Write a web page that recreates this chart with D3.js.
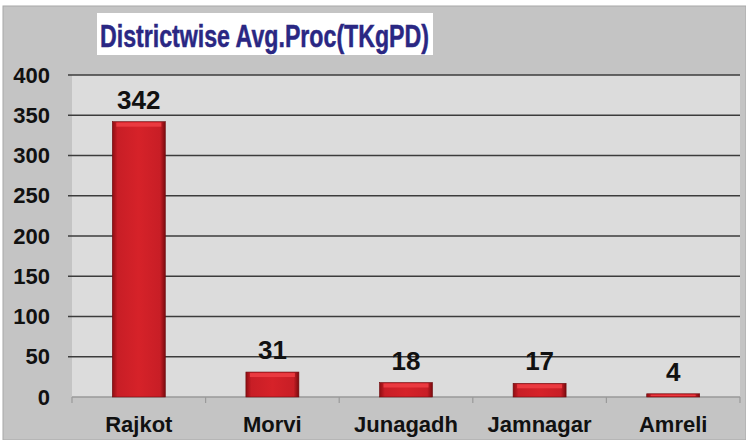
<!DOCTYPE html>
<html>
<head>
<meta charset="utf-8">
<script src="https://cdn.jsdelivr.net/npm/d3@7"></script>
<style>
  body { margin: 0; background: #fff; }
  text { font-family: "Liberation Sans", Arial, sans-serif; font-weight: bold; }
</style>
</head>
<body>
<script>
// données
const districts = ["Rajkot", "Morvi", "Junagadh", "Jamnagar", "Amreli"];
const avgProc = [342, 31, 18, 17, 4];
const yTicks = [0, 50, 100, 150, 200, 250, 300, 350, 400];

const W = 746, H = 440;
const plot = { left: 72, right: 740, top: 75, bottom: 397 };

const svg = d3.select("body").append("svg")
    .attr("width", W)
    .attr("height", H);

// dégradés pour les barres
const defs = svg.append("defs");
const grad = defs.append("linearGradient").attr("id", "barGrad")
    .attr("x1", "0%").attr("x2", "100%").attr("y1", "0%").attr("y2", "0%");
grad.append("stop").attr("offset", "0%").attr("stop-color", "#8e0d12");
grad.append("stop").attr("offset", "10%").attr("stop-color", "#c81e26");
grad.append("stop").attr("offset", "50%").attr("stop-color", "#d62229");
grad.append("stop").attr("offset", "90%").attr("stop-color", "#c81e26");
grad.append("stop").attr("offset", "100%").attr("stop-color", "#7a0a0e");

// fond gris
svg.append("rect").attr("x", 3).attr("y", 6).attr("width", W - 3).attr("height", H - 6)
    .attr("fill", "#c4c4c4").attr("stroke", "#a8a8a8");

// zone du graphique
svg.append("rect")
    .attr("x", plot.left).attr("y", plot.top)
    .attr("width", plot.right - plot.left).attr("height", plot.bottom - plot.top)
    .attr("fill", "#dcdcdc");

// titre
svg.append("rect").attr("x", 97).attr("y", 13).attr("width", 336).attr("height", 42).attr("fill", "#fff");
svg.append("text")
    .attr("x", 100).attr("y", 47)
    .attr("font-size", 32)
    .attr("fill", "#2a2783")
    .attr("stroke", "#2a2783").attr("stroke-width", 0.5)
    .attr("textLength", 329)
    .attr("lengthAdjust", "spacingAndGlyphs")
    .text("Districtwise Avg.Proc(TKgPD)");

// échelles
const x = d3.scaleBand().domain(districts).range([plot.left, plot.right]).paddingInner(0).paddingOuter(0);
const y = d3.scaleLinear().domain([0, 400]).range([plot.bottom, plot.top]);

// grille
svg.append("g")
    .selectAll("line")
    .data(yTicks.filter(d => d > 0))
    .enter()
    .append("line")
    .attr("x1", plot.left - 4).attr("x2", plot.right)
    .attr("y1", d => y(d)).attr("y2", d => y(d))
    .attr("stroke", "#3c3c3c").attr("stroke-width", 1.5);

// axe y
const yAxis = svg.append("g")
    .attr("transform", "translate(" + plot.left + ",0)")
    .call(d3.axisLeft(y).tickValues(yTicks).tickSize(0).tickPadding(22));
yAxis.select(".domain").remove();
yAxis.selectAll("text")
    .attr("font-size", 22)
    .attr("font-family", "Liberation Sans, Arial, sans-serif")
    .attr("fill", "#111");

// axe x
svg.append("line")
    .attr("x1", plot.left).attr("x2", plot.right)
    .attr("y1", plot.bottom).attr("y2", plot.bottom)
    .attr("stroke", "#9a9a9a").attr("stroke-width", 1.5);
svg.append("g")
    .selectAll("line")
    .data(districts.map(d => x(d)).concat([plot.right]))
    .enter()
    .append("line")
    .attr("x1", d => d).attr("x2", d => d)
    .attr("y1", plot.bottom).attr("y2", plot.bottom + 6)
    .attr("stroke", "#9a9a9a").attr("stroke-width", 1.2);

svg.append("g")
    .selectAll("text")
    .data(districts)
    .enter()
    .append("text")
    .attr("x", d => x(d) + x.bandwidth() / 2)
    .attr("y", 432)
    .attr("text-anchor", "middle")
    .attr("font-size", 22)
    .attr("fill", "#111")
    .text(d => d);

// barres
const barW = 53;
const bars = svg.append("g")
    .selectAll("g")
    .data(districts.map((d, i) => ({ name: d, value: avgProc[i] })))
    .enter()
    .append("g");

bars.append("rect")
    .attr("x", d => x(d.name) + x.bandwidth() / 2 - barW / 2)
    .attr("y", d => y(d.value))
    .attr("width", barW)
    .attr("height", d => y(0) - y(d.value))
    .attr("fill", "url(#barGrad)")
    .attr("stroke", "#6e0a0e")
    .attr("stroke-width", 0.6);

// reflet en haut de la barre
bars.append("rect")
    .attr("x", d => x(d.name) + x.bandwidth() / 2 - barW / 2 + 4)
    .attr("y", d => y(d.value) + 1)
    .attr("width", barW - 8)
    .attr("height", d => Math.min(4, Math.max(0, y(0) - y(d.value) - 2)))
    .attr("fill", "#ea3a40");

// étiquettes des valeurs
bars.append("text")
    .attr("x", d => x(d.name) + x.bandwidth() / 2)
    .attr("y", d => y(d.value) - 13)
    .attr("text-anchor", "middle")
    .attr("font-size", 26)
    .attr("fill", "#111")
    .text(d => d.value);
</script>
</body>
</html>
